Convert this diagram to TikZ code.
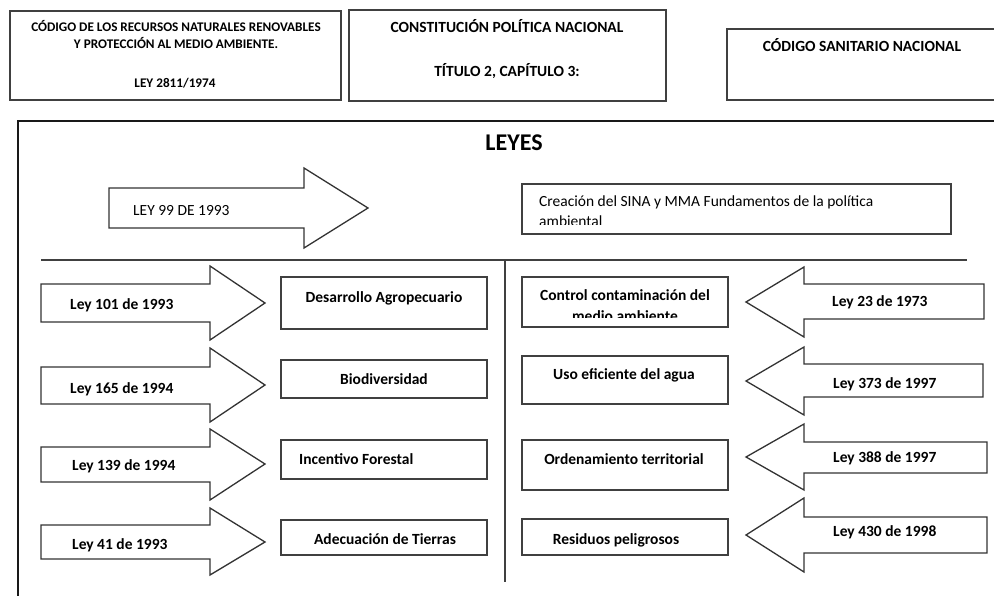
\documentclass[tikz,border=0pt]{standalone}
\usepackage{fontspec}
\setmainfont{Carlito}

\tikzset{
  caja/.style={draw=black!75, line width=1.3pt, inner sep=0pt, outer sep=0pt},
  flecha/.style={draw=black!80, line width=1.3pt, fill=white, line join=miter},
  texto/.style={inner sep=0pt, anchor=base, font=\fontsize{15.5}{20}\selectfont},
  textob/.style={texto, font=\fontsize{15.5}{20}\selectfont\bfseries},
  textoch/.style={texto, font=\fontsize{13.2}{17}\selectfont\bfseries},
  linea/.style={draw=black!75, line width=1.5pt}
}

\begin{document}
\begin{tikzpicture}[x=1pt, y=-1pt]

    \useasboundingbox (0,0) rectangle (994,596);
    \clip (0,0) rectangle (994,596);

    % cajas de arriba
    \node[caja, minimum width=331, minimum height=89] (codigo) at (175.5,55.5) {};
    \node[textoch] (codigoA) at (176,32) {CÓDIGO DE LOS RECURSOS NATURALES RENOVABLES};
    \node[textoch] (codigoB) at (176,49) {Y PROTECCIÓN AL MEDIO AMBIENTE.};
    \node[textoch] (codigoC) at (175,88) {LEY 2811/1974};

    \node[caja, minimum width=317, minimum height=91] (const) at (507.5,55.5) {};
    \node[textob] (constA) at (507,33) {CONSTITUCIÓN POLÍTICA NACIONAL};
    \node[textob] (constB) at (507,77) {TÍTULO 2, CAPÍTULO 3:};

    \node[caja, minimum width=283, minimum height=71] (sanit) at (868.5,64.5) {};
    \node[textob] (sanitA) at (862,52) {CÓDIGO SANITARIO NACIONAL};

    % marco de leyes
    \node[caja, draw=black!90, minimum width=992, minimum height=499] (marco) at (514,370.5) {};
    \node[texto, font=\fontsize{24}{28}\selectfont\bfseries] (leyes) at (514,151) {LEYES};

    \draw[flecha] (109,188) -- (304,188) -- (304,168) -- (368,208)
      -- (304,248) -- (304,228) -- (109,228) -- cycle;
    \node[texto, anchor=base west] (ley99) at (133,216) {LEY 99 DE 1993};

    \node[caja, minimum width=429, minimum height=50] (sina) at (736.5,209) {};
    \node[texto, anchor=base west] (sinaA) at (539,207) {Creación del SINA y MMA Fundamentos de la política};
    \begin{scope}
      \clip (522,184) rectangle (951,225);
      \node[texto, anchor=base west] (sinaB) at (539,227) {ambiental};
    \end{scope}

    % divisiones
    \coordinate (hizq) at (41,260);
    \coordinate (hder) at (967,260);
    \coordinate (varriba) at (505,260);
    \coordinate (vbajo) at (505,582);
    \draw[linea] (hizq) -- (hder);
    \draw[linea] (varriba) -- (vbajo);

    % flechas de la izquierda
    \draw[flecha] (41,284) -- (210,284) -- (210,266) -- (265,303)
      -- (210,340) -- (210,322) -- (41,322) -- cycle;
    \draw[flecha] (41,367) -- (210,367) -- (210,348) -- (265,385)
      -- (210,422) -- (210,404) -- (41,404) -- cycle;
    \draw[flecha] (41,447) -- (210,447) -- (210,429) -- (265,464)
      -- (210,500) -- (210,482) -- (41,482) -- cycle;
    \draw[flecha] (41,525) -- (210,525) -- (210,508) -- (265,542)
      -- (210,575) -- (210,559) -- (41,559) -- cycle;

    \node[textob, anchor=base west] (ley101) at (70,309) {Ley 101 de 1993};
    \node[textob, anchor=base west] (ley165) at (70,393) {Ley 165 de 1994};
    \node[textob, anchor=base west] (ley139) at (72,470) {Ley 139 de 1994};
    \node[textob, anchor=base west] (ley41) at (72,549) {Ley 41 de 1993};

    \node[caja, minimum width=206, minimum height=52] (agro) at (384,303) {};
    \node[caja, minimum width=206, minimum height=38] (biod) at (384,379) {};
    \node[caja, minimum width=206, minimum height=39] (fores) at (384,459.5) {};
    \node[caja, minimum width=206, minimum height=35] (tierr) at (384,537.5) {};

    \node[textob] (agroT) at (384,302) {Desarrollo Agropecuario};
    \node[textob] (biodT) at (384,384) {Biodiversidad};
    \node[textob, anchor=base west] (foresT) at (299,464) {Incentivo Forestal};
    \node[textob] (tierrT) at (385,544) {Adecuación de Tierras};

    % flechas de la derecha
    \draw[flecha] (984,284) -- (804,284) -- (804,267) -- (746,302)
      -- (804,337) -- (804,319) -- (984,319) -- cycle;
    \draw[flecha] (983,364) -- (804,364) -- (804,347) -- (746,381)
      -- (804,415) -- (804,397) -- (983,397) -- cycle;
    \draw[flecha] (987,442) -- (804,442) -- (804,424) -- (746,457)
      -- (804,490) -- (804,473) -- (987,473) -- cycle;
    \draw[flecha] (987,517) -- (804,517) -- (804,498) -- (746,535)
      -- (804,572) -- (804,553) -- (987,553) -- cycle;

    \node[textob, anchor=base west] (ley23) at (832,307) {Ley 23 de 1973};
    \node[textob, anchor=base west] (ley373) at (833,388) {Ley 373 de 1997};
    \node[textob, anchor=base west] (ley388) at (833,462) {Ley 388 de 1997};
    \node[textob, anchor=base west] (ley430) at (833,536) {Ley 430 de 1998};

    \node[caja, minimum width=206, minimum height=50] (contam) at (625,302) {};
    \node[caja, minimum width=206, minimum height=48] (agua) at (625,380) {};
    \node[caja, minimum width=206, minimum height=50] (orden) at (625,465) {};
    \node[caja, minimum width=206, minimum height=36] (resid) at (625,537) {};

    \node[textob] (contamA) at (625,301) {Control contaminación del};
    \begin{scope}
      \clip (522,277) rectangle (728,318);
      \node[textob] (contamB) at (625,322) {medio ambiente};
    \end{scope}
    \node[textob] (aguaT) at (624,379) {Uso eficiente del agua};
    \node[textob] (ordenT) at (624,464) {Ordenamiento territorial};
    \node[textob] (residT) at (616,544) {Residuos peligrosos};

\end{tikzpicture}
\end{document}
